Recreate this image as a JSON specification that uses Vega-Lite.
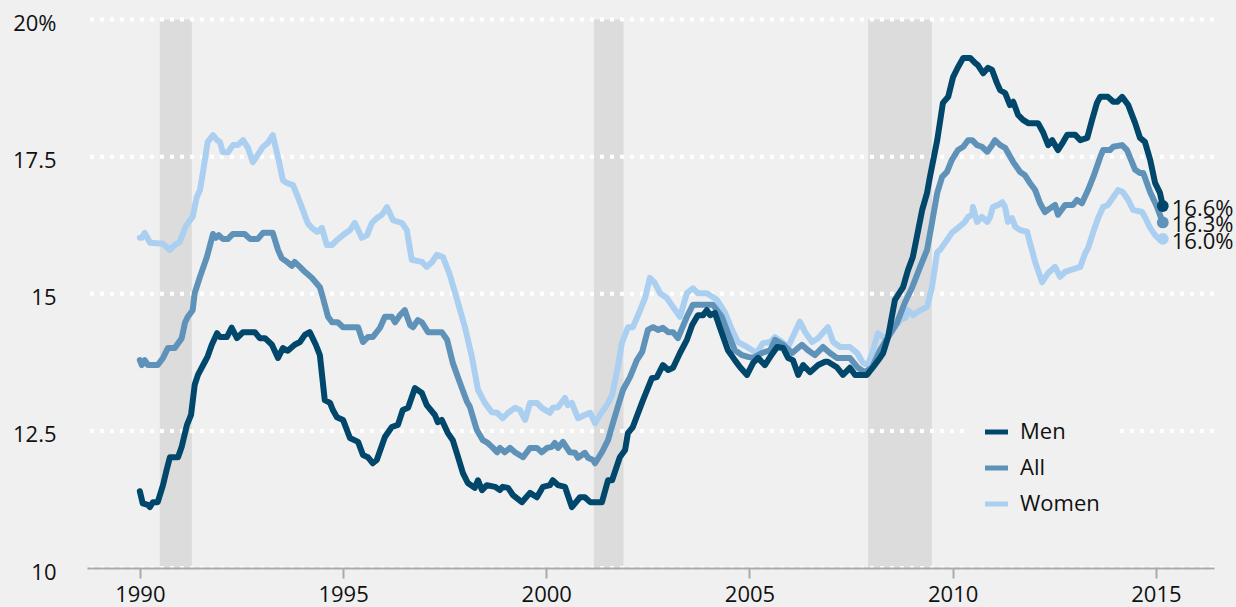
{
"$schema": "https://vega.github.io/schema/vega-lite/v6.json",
"width": 1127, "height": 548.5,
"autosize": {"type": "none"},
"padding": {"left": 87, "top": 19.5, "right": 22, "bottom": 39},
"background": "#f0f0f0",
"config": {"font": "Open Sans", "view": {"stroke": null}, "axis": {"labelColor": "#111111", "labelFontSize": 22, "labelFont": "Open Sans"}},
"datasets": {
"rec": [{"start": 1990.49, "end": 1991.28}, {"start": 2001.17, "end": 2001.9}, {"start": 2007.92, "end": 2009.49}],
"grid": [{"level": 10}, {"level": 12.5}, {"level": 15}, {"level": 17.5}, {"level": 20}],
"ends": [{"series": "Men", "year": 2015.17, "value": 16.6, "label": "16.6%"}, {"series": "All", "year": 2015.17, "value": 16.3, "label": "16.3%"}, {"series": "Women", "year": 2015.17, "value": 16.0, "label": "16.0%"}],
"lines": [
{"series":"Men","year":1990.00,"value":11.40},{"series":"Men","year":1990.07,"value":11.18},{"series":"Men","year":1990.20,"value":11.15},{"series":"Men","year":1990.25,"value":11.11},{"series":"Men","year":1990.32,"value":11.20},{"series":"Men","year":1990.44,"value":11.20},{"series":"Men","year":1990.57,"value":11.51},{"series":"Men","year":1990.66,"value":11.79},{"series":"Men","year":1990.74,"value":12.02},{"series":"Men","year":1990.94,"value":12.02},{"series":"Men","year":1991.03,"value":12.21},{"series":"Men","year":1991.16,"value":12.61},{"series":"Men","year":1991.26,"value":12.79},{"series":"Men","year":1991.35,"value":13.34},{"series":"Men","year":1991.43,"value":13.52},{"series":"Men","year":1991.60,"value":13.76},{"series":"Men","year":1991.67,"value":13.86},{"series":"Men","year":1991.77,"value":14.07},{"series":"Men","year":1991.90,"value":14.28},{"series":"Men","year":1991.97,"value":14.21},{"series":"Men","year":1992.14,"value":14.21},{"series":"Men","year":1992.26,"value":14.38},{"series":"Men","year":1992.39,"value":14.19},{"series":"Men","year":1992.54,"value":14.30},{"series":"Men","year":1992.83,"value":14.30},{"series":"Men","year":1992.95,"value":14.19},{"series":"Men","year":1993.08,"value":14.19},{"series":"Men","year":1993.25,"value":14.07},{"series":"Men","year":1993.40,"value":13.83},{"series":"Men","year":1993.52,"value":14.01},{"series":"Men","year":1993.64,"value":13.96},{"series":"Men","year":1993.81,"value":14.07},{"series":"Men","year":1993.94,"value":14.12},{"series":"Men","year":1994.06,"value":14.25},{"series":"Men","year":1994.18,"value":14.30},{"series":"Men","year":1994.33,"value":14.07},{"series":"Men","year":1994.43,"value":13.88},{"series":"Men","year":1994.55,"value":13.06},{"series":"Men","year":1994.68,"value":13.01},{"series":"Men","year":1994.75,"value":12.88},{"series":"Men","year":1994.85,"value":12.75},{"series":"Men","year":1995.00,"value":12.70},{"series":"Men","year":1995.17,"value":12.37},{"series":"Men","year":1995.37,"value":12.30},{"series":"Men","year":1995.49,"value":12.06},{"series":"Men","year":1995.61,"value":12.02},{"series":"Men","year":1995.73,"value":11.91},{"series":"Men","year":1995.83,"value":11.97},{"series":"Men","year":1996.03,"value":12.39},{"series":"Men","year":1996.20,"value":12.57},{"series":"Men","year":1996.35,"value":12.61},{"series":"Men","year":1996.47,"value":12.88},{"series":"Men","year":1996.60,"value":12.92},{"series":"Men","year":1996.77,"value":13.28},{"series":"Men","year":1996.94,"value":13.19},{"series":"Men","year":1997.06,"value":12.97},{"series":"Men","year":1997.26,"value":12.79},{"series":"Men","year":1997.33,"value":12.66},{"series":"Men","year":1997.43,"value":12.70},{"series":"Men","year":1997.58,"value":12.46},{"series":"Men","year":1997.70,"value":12.33},{"series":"Men","year":1997.83,"value":12.02},{"series":"Men","year":1997.95,"value":11.73},{"series":"Men","year":1998.07,"value":11.55},{"series":"Men","year":1998.24,"value":11.46},{"series":"Men","year":1998.32,"value":11.60},{"series":"Men","year":1998.42,"value":11.42},{"series":"Men","year":1998.54,"value":11.51},{"series":"Men","year":1998.74,"value":11.48},{"series":"Men","year":1998.86,"value":11.42},{"series":"Men","year":1998.93,"value":11.48},{"series":"Men","year":1999.06,"value":11.46},{"series":"Men","year":1999.18,"value":11.33},{"series":"Men","year":1999.40,"value":11.20},{"series":"Men","year":1999.60,"value":11.37},{"series":"Men","year":1999.77,"value":11.29},{"series":"Men","year":1999.92,"value":11.48},{"series":"Men","year":2000.09,"value":11.51},{"series":"Men","year":2000.16,"value":11.60},{"series":"Men","year":2000.29,"value":11.51},{"series":"Men","year":2000.46,"value":11.48},{"series":"Men","year":2000.63,"value":11.11},{"series":"Men","year":2000.83,"value":11.29},{"series":"Men","year":2000.95,"value":11.29},{"series":"Men","year":2001.08,"value":11.20},{"series":"Men","year":2001.37,"value":11.20},{"series":"Men","year":2001.52,"value":11.60},{"series":"Men","year":2001.62,"value":11.60},{"series":"Men","year":2001.81,"value":12.02},{"series":"Men","year":2001.94,"value":12.15},{"series":"Men","year":2002.01,"value":12.46},{"series":"Men","year":2002.13,"value":12.57},{"series":"Men","year":2002.38,"value":13.06},{"series":"Men","year":2002.60,"value":13.46},{"series":"Men","year":2002.72,"value":13.48},{"series":"Men","year":2002.87,"value":13.70},{"series":"Men","year":2003.00,"value":13.61},{"series":"Men","year":2003.12,"value":13.65},{"series":"Men","year":2003.29,"value":13.92},{"series":"Men","year":2003.46,"value":14.16},{"series":"Men","year":2003.59,"value":14.43},{"series":"Men","year":2003.73,"value":14.61},{"series":"Men","year":2003.86,"value":14.61},{"series":"Men","year":2003.95,"value":14.70},{"series":"Men","year":2004.03,"value":14.61},{"series":"Men","year":2004.15,"value":14.65},{"series":"Men","year":2004.27,"value":14.39},{"series":"Men","year":2004.47,"value":13.97},{"series":"Men","year":2004.64,"value":13.79},{"series":"Men","year":2004.77,"value":13.66},{"series":"Men","year":2004.94,"value":13.52},{"series":"Men","year":2005.09,"value":13.74},{"series":"Men","year":2005.21,"value":13.83},{"series":"Men","year":2005.38,"value":13.70},{"series":"Men","year":2005.51,"value":13.85},{"series":"Men","year":2005.68,"value":14.03},{"series":"Men","year":2005.83,"value":14.01},{"series":"Men","year":2005.95,"value":13.83},{"series":"Men","year":2006.07,"value":13.79},{"series":"Men","year":2006.20,"value":13.52},{"series":"Men","year":2006.32,"value":13.70},{"series":"Men","year":2006.49,"value":13.57},{"series":"Men","year":2006.69,"value":13.70},{"series":"Men","year":2006.86,"value":13.76},{"series":"Men","year":2006.93,"value":13.76},{"series":"Men","year":2007.15,"value":13.66},{"series":"Men","year":2007.30,"value":13.52},{"series":"Men","year":2007.47,"value":13.65},{"series":"Men","year":2007.60,"value":13.52},{"series":"Men","year":2007.89,"value":13.52},{"series":"Men","year":2008.04,"value":13.66},{"series":"Men","year":2008.21,"value":13.83},{"series":"Men","year":2008.29,"value":13.92},{"series":"Men","year":2008.41,"value":14.21},{"series":"Men","year":2008.58,"value":14.89},{"series":"Men","year":2008.78,"value":15.12},{"series":"Men","year":2008.90,"value":15.43},{"series":"Men","year":2009.02,"value":15.67},{"series":"Men","year":2009.25,"value":16.53},{"series":"Men","year":2009.37,"value":16.84},{"series":"Men","year":2009.44,"value":17.13},{"series":"Men","year":2009.62,"value":17.80},{"series":"Men","year":2009.76,"value":18.48},{"series":"Men","year":2009.89,"value":18.59},{"series":"Men","year":2010.01,"value":18.95},{"series":"Men","year":2010.13,"value":19.13},{"series":"Men","year":2010.26,"value":19.30},{"series":"Men","year":2010.43,"value":19.30},{"series":"Men","year":2010.55,"value":19.21},{"series":"Men","year":2010.62,"value":19.17},{"series":"Men","year":2010.75,"value":19.02},{"series":"Men","year":2010.87,"value":19.12},{"series":"Men","year":2010.97,"value":19.08},{"series":"Men","year":2011.09,"value":18.84},{"series":"Men","year":2011.17,"value":18.71},{"series":"Men","year":2011.29,"value":18.66},{"series":"Men","year":2011.41,"value":18.44},{"series":"Men","year":2011.49,"value":18.50},{"series":"Men","year":2011.61,"value":18.26},{"series":"Men","year":2011.73,"value":18.17},{"series":"Men","year":2011.86,"value":18.11},{"series":"Men","year":2012.10,"value":18.11},{"series":"Men","year":2012.22,"value":17.95},{"series":"Men","year":2012.35,"value":17.71},{"series":"Men","year":2012.45,"value":17.80},{"series":"Men","year":2012.59,"value":17.62},{"series":"Men","year":2012.72,"value":17.77},{"series":"Men","year":2012.82,"value":17.90},{"series":"Men","year":2013.01,"value":17.90},{"series":"Men","year":2013.14,"value":17.80},{"series":"Men","year":2013.31,"value":17.84},{"series":"Men","year":2013.43,"value":18.17},{"series":"Men","year":2013.55,"value":18.48},{"series":"Men","year":2013.63,"value":18.59},{"series":"Men","year":2013.82,"value":18.59},{"series":"Men","year":2013.95,"value":18.50},{"series":"Men","year":2014.05,"value":18.50},{"series":"Men","year":2014.17,"value":18.59},{"series":"Men","year":2014.32,"value":18.44},{"series":"Men","year":2014.49,"value":18.11},{"series":"Men","year":2014.61,"value":17.84},{"series":"Men","year":2014.73,"value":17.77},{"series":"Men","year":2014.86,"value":17.44},{"series":"Men","year":2014.98,"value":17.02},{"series":"Men","year":2015.10,"value":16.84},{"series":"Men","year":2015.17,"value":16.60},
{"series":"All","year":1990.00,"value":13.79},{"series":"All","year":1990.05,"value":13.70},{"series":"All","year":1990.12,"value":13.79},{"series":"All","year":1990.20,"value":13.70},{"series":"All","year":1990.44,"value":13.70},{"series":"All","year":1990.57,"value":13.83},{"series":"All","year":1990.69,"value":14.01},{"series":"All","year":1990.86,"value":14.01},{"series":"All","year":1991.03,"value":14.19},{"series":"All","year":1991.11,"value":14.47},{"series":"All","year":1991.18,"value":14.58},{"series":"All","year":1991.30,"value":14.70},{"series":"All","year":1991.35,"value":15.01},{"series":"All","year":1991.48,"value":15.31},{"series":"All","year":1991.65,"value":15.67},{"series":"All","year":1991.80,"value":16.09},{"series":"All","year":1991.87,"value":16.02},{"series":"All","year":1991.94,"value":16.07},{"series":"All","year":1992.04,"value":16.00},{"series":"All","year":1992.17,"value":16.00},{"series":"All","year":1992.29,"value":16.09},{"series":"All","year":1992.58,"value":16.09},{"series":"All","year":1992.71,"value":16.00},{"series":"All","year":1992.90,"value":16.00},{"series":"All","year":1993.03,"value":16.11},{"series":"All","year":1993.27,"value":16.11},{"series":"All","year":1993.40,"value":15.80},{"series":"All","year":1993.49,"value":15.65},{"series":"All","year":1993.62,"value":15.58},{"series":"All","year":1993.74,"value":15.51},{"series":"All","year":1993.81,"value":15.58},{"series":"All","year":1993.94,"value":15.49},{"series":"All","year":1994.06,"value":15.40},{"series":"All","year":1994.23,"value":15.29},{"series":"All","year":1994.43,"value":15.12},{"series":"All","year":1994.50,"value":14.94},{"series":"All","year":1994.63,"value":14.58},{"series":"All","year":1994.73,"value":14.48},{"series":"All","year":1994.87,"value":14.48},{"series":"All","year":1995.00,"value":14.39},{"series":"All","year":1995.37,"value":14.39},{"series":"All","year":1995.49,"value":14.12},{"series":"All","year":1995.61,"value":14.21},{"series":"All","year":1995.73,"value":14.21},{"series":"All","year":1995.91,"value":14.38},{"series":"All","year":1996.03,"value":14.58},{"series":"All","year":1996.20,"value":14.58},{"series":"All","year":1996.28,"value":14.48},{"series":"All","year":1996.40,"value":14.61},{"series":"All","year":1996.52,"value":14.70},{"series":"All","year":1996.65,"value":14.43},{"series":"All","year":1996.72,"value":14.39},{"series":"All","year":1996.84,"value":14.52},{"series":"All","year":1996.94,"value":14.48},{"series":"All","year":1997.09,"value":14.30},{"series":"All","year":1997.43,"value":14.30},{"series":"All","year":1997.56,"value":14.16},{"series":"All","year":1997.70,"value":13.74},{"series":"All","year":1997.88,"value":13.37},{"series":"All","year":1998.05,"value":13.03},{"series":"All","year":1998.12,"value":12.94},{"series":"All","year":1998.29,"value":12.52},{"series":"All","year":1998.44,"value":12.33},{"series":"All","year":1998.56,"value":12.28},{"series":"All","year":1998.69,"value":12.19},{"series":"All","year":1998.79,"value":12.11},{"series":"All","year":1998.86,"value":12.19},{"series":"All","year":1998.98,"value":12.11},{"series":"All","year":1999.11,"value":12.19},{"series":"All","year":1999.23,"value":12.11},{"series":"All","year":1999.43,"value":12.02},{"series":"All","year":1999.60,"value":12.19},{"series":"All","year":1999.77,"value":12.19},{"series":"All","year":1999.89,"value":12.11},{"series":"All","year":2000.02,"value":12.19},{"series":"All","year":2000.14,"value":12.21},{"series":"All","year":2000.21,"value":12.28},{"series":"All","year":2000.29,"value":12.19},{"series":"All","year":2000.41,"value":12.30},{"series":"All","year":2000.58,"value":12.11},{"series":"All","year":2000.71,"value":12.10},{"series":"All","year":2000.78,"value":12.01},{"series":"All","year":2000.95,"value":12.10},{"series":"All","year":2001.03,"value":12.01},{"series":"All","year":2001.15,"value":11.97},{"series":"All","year":2001.20,"value":11.91},{"series":"All","year":2001.37,"value":12.11},{"series":"All","year":2001.52,"value":12.33},{"series":"All","year":2001.64,"value":12.64},{"series":"All","year":2001.76,"value":12.94},{"series":"All","year":2001.89,"value":13.25},{"series":"All","year":2002.06,"value":13.48},{"series":"All","year":2002.23,"value":13.79},{"series":"All","year":2002.36,"value":13.94},{"series":"All","year":2002.50,"value":14.34},{"series":"All","year":2002.63,"value":14.39},{"series":"All","year":2002.75,"value":14.34},{"series":"All","year":2002.87,"value":14.38},{"series":"All","year":2003.00,"value":14.30},{"series":"All","year":2003.12,"value":14.30},{"series":"All","year":2003.24,"value":14.19},{"series":"All","year":2003.46,"value":14.58},{"series":"All","year":2003.61,"value":14.80},{"series":"All","year":2004.10,"value":14.80},{"series":"All","year":2004.32,"value":14.58},{"series":"All","year":2004.47,"value":14.28},{"series":"All","year":2004.64,"value":13.97},{"series":"All","year":2004.82,"value":13.88},{"series":"All","year":2004.96,"value":13.85},{"series":"All","year":2005.09,"value":13.83},{"series":"All","year":2005.31,"value":13.92},{"series":"All","year":2005.51,"value":13.97},{"series":"All","year":2005.63,"value":14.16},{"series":"All","year":2005.83,"value":14.07},{"series":"All","year":2006.05,"value":13.92},{"series":"All","year":2006.29,"value":14.07},{"series":"All","year":2006.44,"value":13.97},{"series":"All","year":2006.61,"value":13.88},{"series":"All","year":2006.81,"value":14.03},{"series":"All","year":2006.98,"value":13.92},{"series":"All","year":2007.15,"value":13.83},{"series":"All","year":2007.47,"value":13.83},{"series":"All","year":2007.67,"value":13.65},{"series":"All","year":2007.84,"value":13.57},{"series":"All","year":2008.02,"value":13.66},{"series":"All","year":2008.21,"value":13.97},{"series":"All","year":2008.41,"value":14.21},{"series":"All","year":2008.63,"value":14.47},{"series":"All","year":2008.83,"value":14.85},{"series":"All","year":2009.00,"value":15.11},{"series":"All","year":2009.20,"value":15.49},{"series":"All","year":2009.37,"value":15.80},{"series":"All","year":2009.49,"value":16.29},{"series":"All","year":2009.62,"value":16.84},{"series":"All","year":2009.74,"value":17.13},{"series":"All","year":2009.86,"value":17.22},{"series":"All","year":2009.98,"value":17.44},{"series":"All","year":2010.13,"value":17.62},{"series":"All","year":2010.26,"value":17.68},{"series":"All","year":2010.38,"value":17.80},{"series":"All","year":2010.48,"value":17.80},{"series":"All","year":2010.60,"value":17.71},{"series":"All","year":2010.72,"value":17.68},{"series":"All","year":2010.85,"value":17.59},{"series":"All","year":2010.97,"value":17.71},{"series":"All","year":2011.04,"value":17.80},{"series":"All","year":2011.17,"value":17.71},{"series":"All","year":2011.29,"value":17.66},{"series":"All","year":2011.49,"value":17.40},{"series":"All","year":2011.66,"value":17.22},{"series":"All","year":2011.78,"value":17.16},{"series":"All","year":2011.90,"value":17.02},{"series":"All","year":2012.03,"value":16.89},{"series":"All","year":2012.15,"value":16.65},{"series":"All","year":2012.27,"value":16.49},{"series":"All","year":2012.40,"value":16.56},{"series":"All","year":2012.52,"value":16.62},{"series":"All","year":2012.59,"value":16.44},{"series":"All","year":2012.77,"value":16.62},{"series":"All","year":2012.96,"value":16.62},{"series":"All","year":2013.06,"value":16.71},{"series":"All","year":2013.18,"value":16.65},{"series":"All","year":2013.33,"value":16.89},{"series":"All","year":2013.46,"value":17.13},{"series":"All","year":2013.63,"value":17.49},{"series":"All","year":2013.70,"value":17.62},{"series":"All","year":2013.87,"value":17.62},{"series":"All","year":2013.95,"value":17.68},{"series":"All","year":2014.17,"value":17.71},{"series":"All","year":2014.29,"value":17.62},{"series":"All","year":2014.49,"value":17.26},{"series":"All","year":2014.61,"value":17.20},{"series":"All","year":2014.69,"value":17.20},{"series":"All","year":2014.86,"value":16.85},{"series":"All","year":2015.03,"value":16.58},{"series":"All","year":2015.17,"value":16.30},
{"series":"Women","year":1990.00,"value":16.02},{"series":"Women","year":1990.05,"value":16.02},{"series":"Women","year":1990.12,"value":16.11},{"series":"Women","year":1990.25,"value":15.93},{"series":"Women","year":1990.57,"value":15.91},{"series":"Women","year":1990.74,"value":15.80},{"series":"Women","year":1990.86,"value":15.89},{"series":"Women","year":1990.98,"value":15.94},{"series":"Women","year":1991.11,"value":16.20},{"series":"Women","year":1991.23,"value":16.34},{"series":"Women","year":1991.30,"value":16.40},{"series":"Women","year":1991.40,"value":16.76},{"series":"Women","year":1991.48,"value":16.89},{"series":"Women","year":1991.55,"value":17.20},{"series":"Women","year":1991.67,"value":17.77},{"series":"Women","year":1991.80,"value":17.89},{"series":"Women","year":1991.90,"value":17.80},{"series":"Women","year":1991.97,"value":17.77},{"series":"Women","year":1992.04,"value":17.58},{"series":"Women","year":1992.17,"value":17.58},{"series":"Women","year":1992.29,"value":17.71},{"series":"Women","year":1992.41,"value":17.71},{"series":"Women","year":1992.54,"value":17.80},{"series":"Women","year":1992.66,"value":17.66},{"series":"Women","year":1992.78,"value":17.40},{"series":"Women","year":1992.90,"value":17.53},{"series":"Women","year":1993.03,"value":17.68},{"series":"Women","year":1993.15,"value":17.75},{"series":"Women","year":1993.27,"value":17.89},{"series":"Women","year":1993.40,"value":17.49},{"series":"Women","year":1993.52,"value":17.07},{"series":"Women","year":1993.62,"value":17.02},{"series":"Women","year":1993.77,"value":16.98},{"series":"Women","year":1993.89,"value":16.76},{"series":"Women","year":1994.01,"value":16.53},{"series":"Women","year":1994.13,"value":16.29},{"series":"Women","year":1994.23,"value":16.20},{"series":"Women","year":1994.36,"value":16.13},{"series":"Women","year":1994.48,"value":16.20},{"series":"Women","year":1994.60,"value":15.89},{"series":"Women","year":1994.73,"value":15.89},{"series":"Women","year":1994.85,"value":15.98},{"series":"Women","year":1995.00,"value":16.07},{"series":"Women","year":1995.17,"value":16.16},{"series":"Women","year":1995.29,"value":16.29},{"series":"Women","year":1995.46,"value":16.02},{"series":"Women","year":1995.59,"value":16.07},{"series":"Women","year":1995.71,"value":16.29},{"series":"Women","year":1995.83,"value":16.38},{"series":"Women","year":1995.96,"value":16.44},{"series":"Women","year":1996.08,"value":16.58},{"series":"Women","year":1996.23,"value":16.34},{"series":"Women","year":1996.45,"value":16.29},{"series":"Women","year":1996.57,"value":16.16},{"series":"Women","year":1996.69,"value":15.62},{"series":"Women","year":1996.94,"value":15.58},{"series":"Women","year":1997.06,"value":15.49},{"series":"Women","year":1997.19,"value":15.58},{"series":"Women","year":1997.31,"value":15.71},{"series":"Women","year":1997.46,"value":15.67},{"series":"Women","year":1997.63,"value":15.34},{"series":"Women","year":1997.83,"value":14.83},{"series":"Women","year":1998.00,"value":14.39},{"series":"Women","year":1998.17,"value":13.85},{"series":"Women","year":1998.32,"value":13.25},{"series":"Women","year":1998.49,"value":13.01},{"series":"Women","year":1998.66,"value":12.84},{"series":"Women","year":1998.79,"value":12.83},{"series":"Women","year":1998.93,"value":12.73},{"series":"Women","year":1999.06,"value":12.83},{"series":"Women","year":1999.23,"value":12.92},{"series":"Women","year":1999.35,"value":12.88},{"series":"Women","year":1999.48,"value":12.70},{"series":"Women","year":1999.60,"value":13.01},{"series":"Women","year":1999.77,"value":13.01},{"series":"Women","year":1999.89,"value":12.92},{"series":"Women","year":2000.09,"value":12.83},{"series":"Women","year":2000.16,"value":12.92},{"series":"Women","year":2000.29,"value":12.93},{"series":"Women","year":2000.46,"value":13.10},{"series":"Women","year":2000.53,"value":12.97},{"series":"Women","year":2000.63,"value":13.01},{"series":"Women","year":2000.78,"value":12.73},{"series":"Women","year":2000.95,"value":12.79},{"series":"Women","year":2001.08,"value":12.83},{"series":"Women","year":2001.20,"value":12.64},{"series":"Women","year":2001.32,"value":12.79},{"series":"Women","year":2001.49,"value":12.97},{"series":"Women","year":2001.62,"value":13.15},{"series":"Women","year":2001.76,"value":13.66},{"series":"Women","year":2001.86,"value":14.10},{"series":"Women","year":2002.01,"value":14.39},{"series":"Women","year":2002.13,"value":14.39},{"series":"Women","year":2002.31,"value":14.70},{"series":"Women","year":2002.43,"value":14.92},{"series":"Women","year":2002.55,"value":15.29},{"series":"Women","year":2002.67,"value":15.20},{"series":"Women","year":2002.80,"value":15.01},{"series":"Women","year":2002.97,"value":14.92},{"series":"Women","year":2003.12,"value":14.76},{"series":"Women","year":2003.29,"value":14.58},{"series":"Women","year":2003.46,"value":15.01},{"series":"Women","year":2003.61,"value":15.10},{"series":"Women","year":2003.73,"value":15.01},{"series":"Women","year":2003.95,"value":15.01},{"series":"Women","year":2004.20,"value":14.89},{"series":"Women","year":2004.40,"value":14.65},{"series":"Women","year":2004.57,"value":14.34},{"series":"Women","year":2004.72,"value":14.12},{"series":"Women","year":2004.94,"value":14.03},{"series":"Women","year":2005.18,"value":13.92},{"series":"Women","year":2005.33,"value":14.10},{"series":"Women","year":2005.51,"value":14.12},{"series":"Women","year":2005.63,"value":14.21},{"series":"Women","year":2005.80,"value":14.12},{"series":"Women","year":2005.95,"value":14.03},{"series":"Women","year":2006.05,"value":14.19},{"series":"Women","year":2006.24,"value":14.49},{"series":"Women","year":2006.37,"value":14.30},{"series":"Women","year":2006.54,"value":14.12},{"series":"Women","year":2006.69,"value":14.19},{"series":"Women","year":2006.93,"value":14.39},{"series":"Women","year":2007.06,"value":14.12},{"series":"Women","year":2007.23,"value":14.03},{"series":"Women","year":2007.47,"value":14.03},{"series":"Women","year":2007.65,"value":13.92},{"series":"Women","year":2007.79,"value":13.74},{"series":"Women","year":2007.92,"value":13.70},{"series":"Women","year":2008.04,"value":13.97},{"series":"Women","year":2008.16,"value":14.28},{"series":"Women","year":2008.29,"value":14.21},{"series":"Women","year":2008.41,"value":14.21},{"series":"Women","year":2008.58,"value":14.39},{"series":"Women","year":2008.71,"value":14.52},{"series":"Women","year":2008.83,"value":14.56},{"series":"Women","year":2008.90,"value":14.70},{"series":"Women","year":2009.02,"value":14.61},{"series":"Women","year":2009.20,"value":14.70},{"series":"Women","year":2009.37,"value":14.76},{"series":"Women","year":2009.49,"value":15.12},{"series":"Women","year":2009.62,"value":15.76},{"series":"Women","year":2009.69,"value":15.80},{"series":"Women","year":2009.86,"value":15.98},{"series":"Women","year":2009.98,"value":16.11},{"series":"Women","year":2010.13,"value":16.20},{"series":"Women","year":2010.30,"value":16.31},{"series":"Women","year":2010.38,"value":16.40},{"series":"Women","year":2010.48,"value":16.44},{"series":"Women","year":2010.50,"value":16.58},{"series":"Women","year":2010.60,"value":16.31},{"series":"Women","year":2010.72,"value":16.40},{"series":"Women","year":2010.85,"value":16.31},{"series":"Women","year":2010.92,"value":16.40},{"series":"Women","year":2010.99,"value":16.58},{"series":"Women","year":2011.12,"value":16.62},{"series":"Women","year":2011.22,"value":16.67},{"series":"Women","year":2011.29,"value":16.58},{"series":"Women","year":2011.36,"value":16.31},{"series":"Women","year":2011.46,"value":16.38},{"series":"Women","year":2011.54,"value":16.22},{"series":"Women","year":2011.66,"value":16.16},{"series":"Women","year":2011.83,"value":16.13},{"series":"Women","year":2011.90,"value":15.93},{"series":"Women","year":2012.03,"value":15.58},{"series":"Women","year":2012.20,"value":15.21},{"series":"Women","year":2012.35,"value":15.38},{"series":"Women","year":2012.52,"value":15.49},{"series":"Women","year":2012.64,"value":15.31},{"series":"Women","year":2012.77,"value":15.40},{"series":"Women","year":2012.89,"value":15.43},{"series":"Women","year":2013.14,"value":15.49},{"series":"Women","year":2013.26,"value":15.74},{"series":"Women","year":2013.33,"value":15.83},{"series":"Women","year":2013.46,"value":16.13},{"series":"Women","year":2013.58,"value":16.38},{"series":"Women","year":2013.70,"value":16.58},{"series":"Women","year":2013.82,"value":16.62},{"series":"Women","year":2013.95,"value":16.76},{"series":"Women","year":2014.07,"value":16.89},{"series":"Women","year":2014.19,"value":16.85},{"series":"Women","year":2014.32,"value":16.71},{"series":"Women","year":2014.44,"value":16.53},{"series":"Women","year":2014.66,"value":16.49},{"series":"Women","year":2014.73,"value":16.40},{"series":"Women","year":2014.86,"value":16.20},{"series":"Women","year":2014.98,"value":16.07},{"series":"Women","year":2015.10,"value":15.98},{"series":"Women","year":2015.17,"value":16.00}
]
},
"layer": [
{"data": {"name": "rec"}, "mark": {"type": "rect", "color": "#dcdcdc"},
 "encoding": {
  "x": {"field": "start", "type": "quantitative", "title": null, "scale": {"domain": [1988.7, 2016.43], "nice": false, "zero": false},
        "axis": {"title": null, "values": [1990, 1995, 2000, 2005, 2010, 2015], "format": "d", "grid": false, "domainColor": "#aaaaaa", "domainWidth": 2, "tickColor": "#aaaaaa", "tickWidth": 2, "tickSize": 10, "labelPadding": 6, "zindex": 1}},
  "x2": {"field": "end"}}},
{"data": {"name": "grid"}, "mark": {"type": "rule", "color": "#ffffff", "strokeDash": [4, 6], "strokeWidth": 4},
 "encoding": {
  "y": {"field": "level", "type": "quantitative", "title": null, "scale": {"domain": [10, 20], "nice": false, "zero": false},
        "axis": {"title": null, "domain": false, "ticks": false, "grid": false, "labelPadding": 31, "labelOffset": 4, "values": [10, 12.5, 15, 17.5, 20], "labelExpr": "datum.value == 20 ? '20%' : (datum.value % 1 == 0 ? format(datum.value, 'd') : format(datum.value, '.1f'))"}}}},
{"data": {"name": "lines"}, "transform": [{"filter": "datum.series == 'Women'"}],
 "mark": {"type": "line", "strokeWidth": 6, "strokeJoin": "round", "strokeCap": "round"},
 "encoding": {
  "x": {"field": "year", "type": "quantitative", "title": null},
  "y": {"field": "value", "type": "quantitative", "title": null},
  "color": {"field": "series", "type": "nominal", "scale": {"domain": ["Men", "All", "Women"], "range": ["#00476b", "#5f92b8", "#aacff0"]},
            "legend": {"title": null, "orient": "none", "legendX": 878, "legendY": 381, "symbolType": "stroke", "symbolStrokeWidth": 5, "symbolSize": 530, "labelFontSize": 22, "labelColor": "#111111", "fillColor": "#f0f0f0", "padding": 17, "rowPadding": 10, "labelOffset": 9}}}},
{"data": {"name": "lines"}, "transform": [{"filter": "datum.series == 'All'"}],
 "mark": {"type": "line", "strokeWidth": 6, "strokeJoin": "round", "strokeCap": "round"},
 "encoding": {
  "x": {"field": "year", "type": "quantitative", "title": null},
  "y": {"field": "value", "type": "quantitative", "title": null},
  "color": {"field": "series", "type": "nominal", "scale": {"domain": ["Men", "All", "Women"], "range": ["#00476b", "#5f92b8", "#aacff0"]},
            "legend": {"title": null, "orient": "none", "legendX": 878, "legendY": 381, "symbolType": "stroke", "symbolStrokeWidth": 5, "symbolSize": 530, "labelFontSize": 22, "labelColor": "#111111", "fillColor": "#f0f0f0", "padding": 17, "rowPadding": 10, "labelOffset": 9}}}},
{"data": {"name": "lines"}, "transform": [{"filter": "datum.series == 'Men'"}],
 "mark": {"type": "line", "strokeWidth": 6, "strokeJoin": "round", "strokeCap": "round"},
 "encoding": {
  "x": {"field": "year", "type": "quantitative", "title": null},
  "y": {"field": "value", "type": "quantitative", "title": null},
  "color": {"field": "series", "type": "nominal", "scale": {"domain": ["Men", "All", "Women"], "range": ["#00476b", "#5f92b8", "#aacff0"]},
            "legend": {"title": null, "orient": "none", "legendX": 878, "legendY": 381, "symbolType": "stroke", "symbolStrokeWidth": 5, "symbolSize": 530, "labelFontSize": 22, "labelColor": "#111111", "fillColor": "#f0f0f0", "padding": 17, "rowPadding": 10, "labelOffset": 9}}}},
{"data": {"name": "ends"}, "mark": {"type": "circle", "size": 140, "opacity": 1},
 "encoding": {
  "x": {"field": "year", "type": "quantitative", "title": null},
  "y": {"field": "value", "type": "quantitative", "title": null},
  "fill": {"field": "series", "type": "nominal", "scale": {"domain": ["Men", "All", "Women"], "range": ["#00476b", "#5f92b8", "#aacff0"]}, "legend": null}}},
{"data": {"name": "ends"}, "mark": {"type": "text", "align": "left", "baseline": "middle", "dx": 9, "dy": 3, "fontSize": 22, "color": "#111111"},
 "encoding": {
  "x": {"field": "year", "type": "quantitative", "title": null},
  "y": {"field": "value", "type": "quantitative", "title": null},
  "text": {"field": "label"}}}
]
}
